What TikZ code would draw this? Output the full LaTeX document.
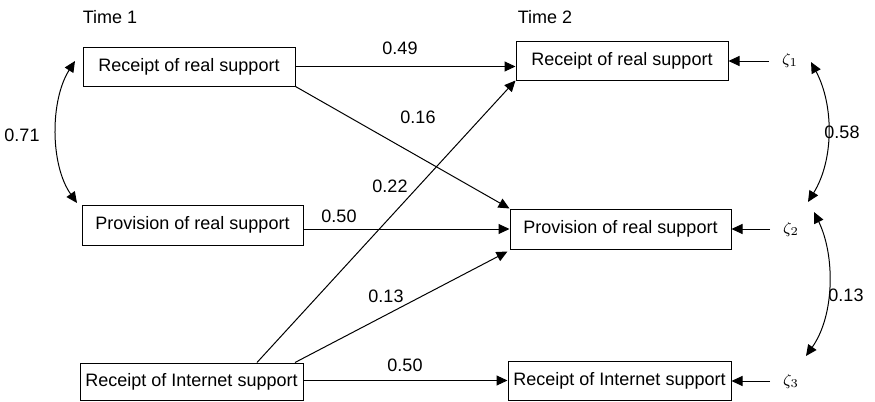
\documentclass[tikz,border=0pt]{standalone}
\usepackage{fontspec}
\setmainfont{Liberation Sans}
\usetikzlibrary{arrows.meta,calc}
\begin{document}
\begin{tikzpicture}[x=0.5pt,y=-0.5pt,
  font=\fontsize{9}{11}\selectfont,
  var/.style={draw, line width=0.5pt, inner sep=0pt, align=center},
  lbl/.style={inner sep=0pt},
  arr/.style={line width=0.5pt, -{Triangle[length=5.5pt,width=5pt]}},
  dbl/.style={line width=0.5pt, {Triangle[length=5.5pt,width=5pt]}-{Triangle[length=5.5pt,width=5pt]}}]
\useasboundingbox (0,0) rectangle (875,402);
% Headings
\node[lbl] (t1) at (110,17) {Time 1};
\node[lbl] (t2) at (545,17) {Time 2};
% Time 1 boxes
\node[var, minimum width=106pt, minimum height=19.5pt] (ar) at (189,66.5) {Receipt of real support};
\node[var, minimum width=110.5pt, minimum height=20pt] (ap) at (192.5,225) {Provision of real support};
\node[var, minimum width=111.5pt, minimum height=18.5pt] (ai) at (191.5,381.5) {Receipt of Internet support};
% Time 2 boxes
\node[var, minimum width=106pt, minimum height=19.5pt] (br) at (622,60.5) {Receipt of real support};
\node[var, minimum width=110.5pt, minimum height=20pt] (bp) at (620.5,229) {Provision of real support};
\node[var, minimum width=111.5pt, minimum height=19.5pt] (bi) at (619.5,380.5) {Receipt of Internet support};
% Disturbances
\node[lbl, font=\fontsize{8.5}{10}\selectfont] (z1) at (790,60) {$\zeta_1$};
\node[lbl, font=\fontsize{8.5}{10}\selectfont] (z2) at (791,229) {$\zeta_2$};
\node[lbl, font=\fontsize{8.5}{10}\selectfont] (z3) at (791,381) {$\zeta_3$};
\coordinate (z1w) at (769,61);
\coordinate (z2w) at (770,229);
\coordinate (z3w) at (770,381);
\draw[arr] (z1w) -- (br.east |- z1w);
\draw[arr] (z2w) -- (bp.east |- z2w);
\draw[arr] (z3w) -- (bi.east |- z3w);
% Paths
\draw[arr] (ar.east) -- (br.west |- ar.east);
\draw[arr] (ar.south east) -- (bp.north west);
\draw[arr] (bp.west -| ap.east) -- (bp.west);
\draw[arr] ([xshift=32.75pt]ai.north) -- (br.south west);
\draw[arr] ([xshift=51.75pt]ai.north) -- ([xshift=-1pt,yshift=-1pt]bp.south west);
\draw[arr] (bi.west -| ai.east) -- (bi.west);
% Path labels
\node[lbl] (l49) at (400,48) {0.49};
\node[lbl] (l16) at (418,117) {0.16};
\node[lbl] (l22) at (390,186) {0.22};
\node[lbl] (l50a) at (339,216) {0.50};
\node[lbl] (l13a) at (386,296) {0.13};
\node[lbl] (l50b) at (405,365) {0.50};
% Correlations
\coordinate (c1a) at (75,61);
\coordinate (c1b) at (77,203);
\draw[dbl] (c1a) .. controls (50,100) and (50,165) .. (c1b);
\node[lbl] (l71) at (22,135) {0.71};
\coordinate (c2a) at (811,62);
\coordinate (c2b) at (808,202);
\draw[dbl] (c2a) .. controls (834,105) and (834,160) .. (c2b);
\node[lbl] (l58) at (842,132) {0.58};
\coordinate (c3a) at (814,212);
\coordinate (c3b) at (806,356);
\draw[dbl] (c3a) .. controls (835,255) and (835,315) .. (c3b);
\node[lbl] (l13b) at (846,295) {0.13};
\end{tikzpicture}
\end{document}
